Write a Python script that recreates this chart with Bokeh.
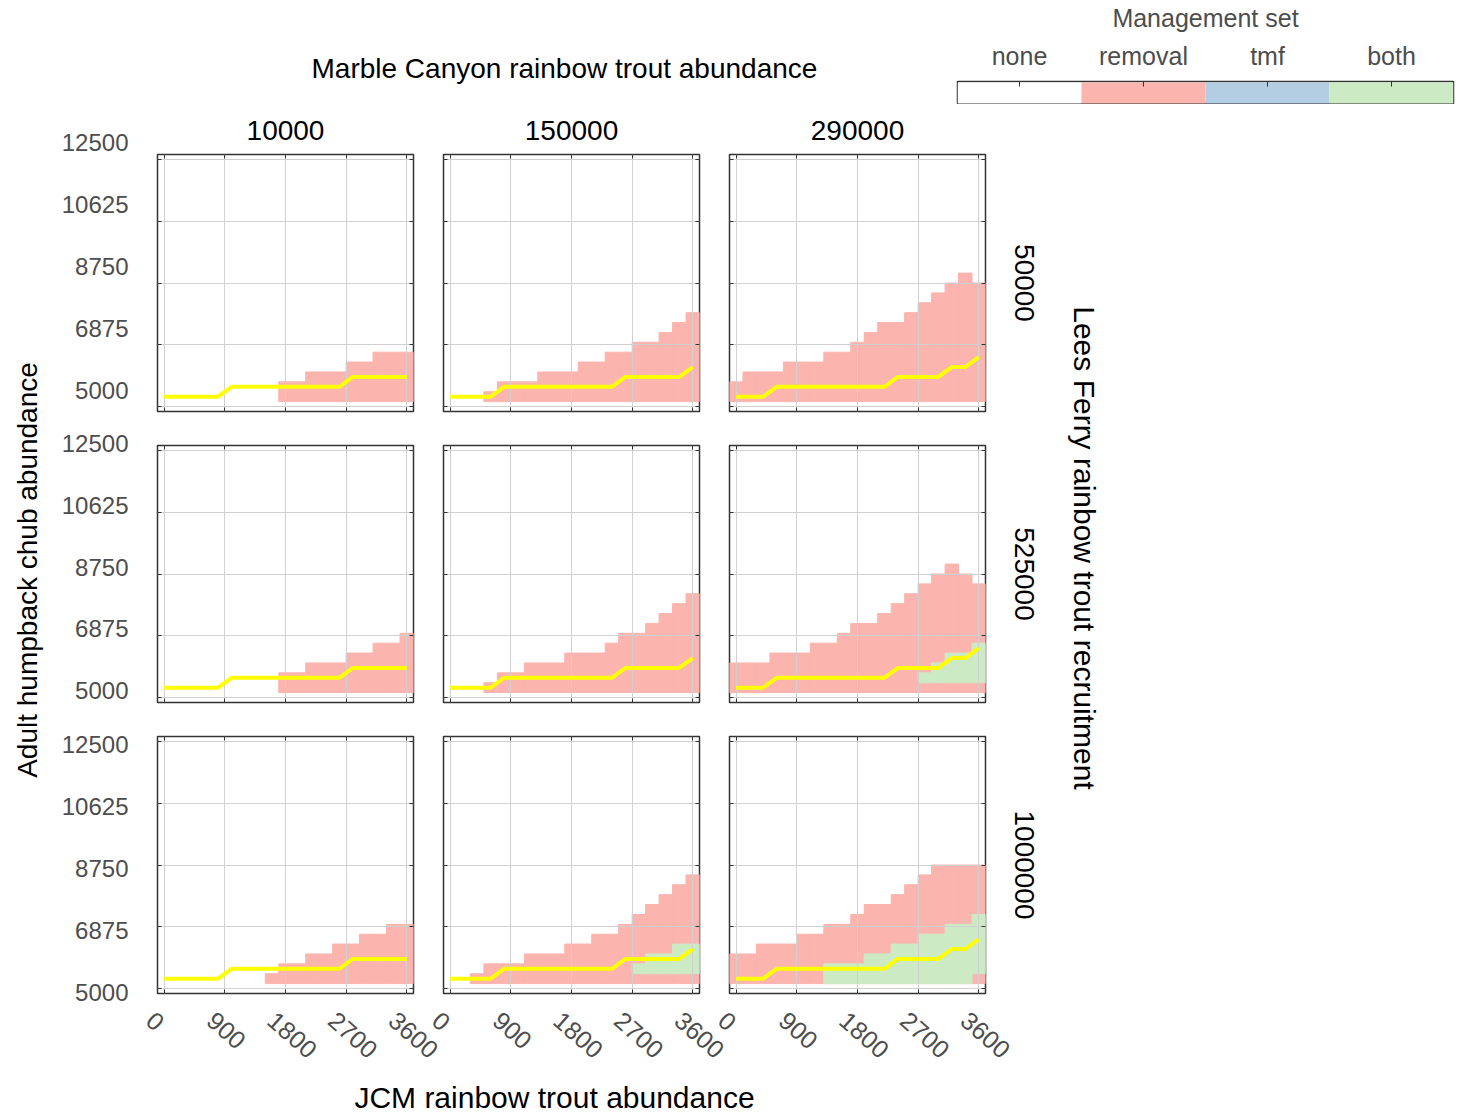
from bokeh.plotting import figure
from bokeh.layouts import column, row
from bokeh.models import FixedTicker, LinearAxis, Title, Range1d, FactorRange, ColumnDataSource
from bokeh.embed import file_html
from bokeh.resources import INLINE

# ---------------- data ----------------
jcm_abundance = [0, 200, 400, 600, 800, 1000, 1200, 1400, 1600, 1800,
                 2000, 2200, 2400, 2600, 2800, 3000, 3200, 3400, 3600]
jcm_step = 200
chub_step = 300
chub_lo, chub_hi = 5000, 12500
marble_canyon = ["10000", "150000", "290000"]
lees_ferry = ["50000", "525000", "1000000"]
mgmt_sets = ["none", "removal", "tmf", "both"]
x_ticks = [0, 900, 1800, 2700, 3600]
y_ticks = [5000, 6875, 8750, 10625, 12500]

N = None
removal_bottom = 5300
# highest chub abundance (cell centre) where "removal" is chosen, per JCM abundance
removal_top_50000_10000 = [N, N, N, N, N, N, N, N, N, 5600, 5600, 5900, 5900, 5900, 6200, 6200, 6500, 6500, 6500]
removal_top_50000_150000 = [N, N, N, 5300, 5600, 5600, 5600, 5900, 5900, 5900, 6200, 6200, 6500, 6500, 6800, 6800, 7100, 7400, 7700]
removal_top_50000_290000 = [5600, 5900, 5900, 5900, 6200, 6200, 6200, 6500, 6500, 6800, 7100, 7400, 7400, 7700, 8000, 8300, 8600, 8900, 8600]
removal_top_525000_10000 = [N, N, N, N, N, N, N, N, N, 5600, 5600, 5900, 5900, 5900, 6200, 6200, 6500, 6500, 6800]
removal_top_525000_150000 = [N, N, N, 5300, 5600, 5600, 5900, 5900, 5900, 6200, 6200, 6200, 6500, 6800, 6800, 7100, 7400, 7700, 8000]
removal_top_525000_290000 = [5900, 5900, 5900, 6200, 6200, 6200, 6500, 6500, 6800, 7100, 7100, 7400, 7700, 8000, 8300, 8600, 8900, 8600, 8300]
removal_top_1000000_10000 = [N, N, N, N, N, N, N, N, 5300, 5600, 5600, 5900, 5900, 6200, 6200, 6500, 6500, 6800, 6800]
removal_top_1000000_150000 = [N, N, 5300, 5600, 5600, 5600, 5900, 5900, 5900, 6200, 6200, 6500, 6500, 6800, 7100, 7400, 7700, 8000, 8300]
removal_top_1000000_290000 = [5900, 5900, 6200, 6200, 6200, 6500, 6500, 6800, 6800, 7100, 7400, 7400, 7700, 8000, 8300, 8600, 8600, 8600, 8600]

# "both" (removal + tmf) band, lower and upper cell centres
both_bottom_525000_290000 = [N, N, N, N, N, N, N, N, N, N, N, N, N, N, 5600, 5600, 5600, 5600, 5600]
both_top_525000_290000 = [N, N, N, N, N, N, N, N, N, N, N, N, N, N, 5600, 5900, 6200, 6200, 6500]
both_bottom_1000000_150000 = [N, N, N, N, N, N, N, N, N, N, N, N, N, N, 5600, 5600, 5600, 5600, 5600]
both_top_1000000_150000 = [N, N, N, N, N, N, N, N, N, N, N, N, N, N, 5600, 5900, 5900, 6200, 6200]
both_bottom_1000000_290000 = [N, N, N, N, N, N, N, 5300, 5300, 5300, 5300, 5300, 5300, 5300, 5300, 5300, 5300, 5300, 5600]
both_top_1000000_290000 = [N, N, N, N, N, N, N, 5600, 5600, 5600, 5900, 5900, 6200, 6200, 6500, 6500, 6800, 6800, 7100]

# yellow threshold line, per Marble Canyon abundance
threshold_10000 = [5300, 5300, 5300, 5300, 5300, 5600, 5600, 5600, 5600, 5600, 5600, 5600, 5600, 5600, 5900, 5900, 5900, 5900, 5900]
threshold_150000 = [5300, 5300, 5300, 5300, 5600, 5600, 5600, 5600, 5600, 5600, 5600, 5600, 5600, 5900, 5900, 5900, 5900, 5900, 6200]
threshold_290000 = [5300, 5300, 5300, 5600, 5600, 5600, 5600, 5600, 5600, 5600, 5600, 5600, 5900, 5900, 5900, 5900, 6200, 6200, 6500]

removal_tops = [
    [removal_top_50000_10000, removal_top_50000_150000, removal_top_50000_290000],
    [removal_top_525000_10000, removal_top_525000_150000, removal_top_525000_290000],
    [removal_top_1000000_10000, removal_top_1000000_150000, removal_top_1000000_290000],
]
both_bands = {
    (1, 2): (both_bottom_525000_290000, both_top_525000_290000),
    (2, 1): (both_bottom_1000000_150000, both_top_1000000_150000),
    (2, 2): (both_bottom_1000000_290000, both_top_1000000_290000),
}
thresholds = [threshold_10000, threshold_150000, threshold_290000]

# ---------------- style / layout constants ----------------
FONT = "Liberation Sans"
PINK, BLUE, GREEN = "#FBB4AE", "#B3CDE3", "#CCEBC5"
mgmt_colors = ["#FFFFFF", PINK, BLUE, GREEN]
TICK_GRAY = "#4d4d4d"
FRAME_COLOR = "#333333"
GRID_COLOR = "#d0d0d0"
FRAME_W, FRAME_H = 256, 257
COL_LEFT = [5, 15, 15]
COL_RIGHT = [15, 15, 76]
ROW_TOP = [50, 17, 17]
ROW_BOTTOM = [17, 17, 14]
HEADER_H = 104
YSTRIP_W = 102
XSTRIP_H = 61
BOTTOM_H = 46
# vertical nudge (px, upwards) of the chub tick labels in each facet row
ylabel_nudge = [16.5, 7.0, -3.5]
# horizontal nudge (px, leftwards) that centres the slanted JCM tick labels on their ticks
xlabel_nudge = 14

x_lo, x_hi = jcm_abundance[0] - jcm_step / 2, jcm_abundance[-1] + jcm_step / 2
y_lo, y_hi = chub_lo - chub_step / 2, chub_hi + chub_step / 2


def big_title(text, size="28px", **kw):
    return Title(text=text, text_font=FONT, text_font_size=size, text_font_style="normal",
                 text_color="black", **kw)


def quads(bottoms, tops):
    d = dict(left=[], right=[], bottom=[], top=[])
    for x, b, t in zip(jcm_abundance, bottoms, tops):
        if t is None or b is None:
            continue
        d["left"].append(x - jcm_step / 2)
        d["right"].append(x + jcm_step / 2)
        d["bottom"].append(b - chub_step / 2)
        d["top"].append(t + chub_step / 2)
    return d


def tick_axis(ax, ticks):
    ax.ticker = FixedTicker(ticks=ticks)
    ax.axis_line_color = None
    ax.major_tick_in = 4
    ax.major_tick_out = 0
    ax.minor_tick_line_color = None
    ax.major_tick_line_color = FRAME_COLOR
    ax.major_tick_line_width = 1
    ax.major_label_text_color = None
    ax.major_label_text_font_size = "0px"
    ax.major_label_standoff = 0
    ax.axis_label_text_font = FONT
    ax.axis_label_text_font_style = "normal"
    ax.axis_label_text_color = "black"
    ax.axis_label_text_font_size = "28px"


def label_axis(ax, ticks, overrides, size):
    ax.ticker = FixedTicker(ticks=ticks)
    ax.major_label_overrides = overrides
    ax.axis_line_color = None
    ax.major_tick_line_color = None
    ax.major_tick_in = 0
    ax.major_tick_out = 0
    ax.minor_tick_line_color = None
    ax.minor_tick_in = 0
    ax.minor_tick_out = 0
    ax.major_label_text_font = FONT
    ax.major_label_text_font_size = size
    ax.major_label_text_color = TICK_GRAY


def make_panel(r, c):
    left, right, top, bottom = COL_LEFT[c], COL_RIGHT[c], ROW_TOP[r], ROW_BOTTOM[r]
    p = figure(width=left + FRAME_W + right, height=top + FRAME_H + bottom,
               x_range=Range1d(x_lo, x_hi), y_range=Range1d(y_lo, y_hi),
               min_border_left=left, min_border_right=right,
               min_border_top=top, min_border_bottom=bottom,
               toolbar_location=None, tools="", output_backend="svg")
    p.outline_line_color = FRAME_COLOR
    p.outline_line_width = 1.5
    p.background_fill_color = "white"

    xb = p.xaxis[0]
    yl = p.yaxis[0]
    xa = LinearAxis()
    yr = LinearAxis()
    p.add_layout(xa, "above")
    p.add_layout(yr, "right")
    for ax, t in ((xb, x_ticks), (yl, y_ticks), (xa, x_ticks), (yr, y_ticks)):
        tick_axis(ax, t)
    if r == 0:
        xa.axis_label = marble_canyon[c]
        xa.axis_label_standoff = 15
    if c == 2:
        yr.axis_label = lees_ferry[r]
        yr.axis_label_standoff = 29

    p.xgrid.ticker = FixedTicker(ticks=x_ticks)
    p.ygrid.ticker = FixedTicker(ticks=y_ticks)
    p.grid.grid_line_color = GRID_COLOR
    p.grid.grid_line_width = 1

    rem = quads([removal_bottom] * len(jcm_abundance), removal_tops[r][c])
    q = p.quad(source=ColumnDataSource(rem), left="left", right="right", bottom="bottom", top="top",
               fill_color=PINK, line_color=PINK, line_width=1)
    q.level = "image"
    if (r, c) in both_bands:
        bb, bt = both_bands[(r, c)]
        q2 = p.quad(source=ColumnDataSource(quads(bb, bt)), left="left", right="right",
                    bottom="bottom", top="top", fill_color=GREEN, line_color=GREEN, line_width=1)
        q2.level = "image"
    p.line(jcm_abundance, thresholds[c], line_color="#FFFF00", line_width=4)
    return p


panels = [[make_panel(r, c) for c in range(3)] for r in range(3)]
grid_h = sum(ROW_TOP) + sum(ROW_BOTTOM) + 3 * FRAME_H
grid_w = sum(COL_LEFT) + sum(COL_RIGHT) + 3 * FRAME_W


def blank(width, height, **kw):
    f = figure(width=width, height=height, toolbar_location=None, tools="", output_backend="svg", **kw)
    f.outline_line_color = None
    f.grid.visible = False
    f.frame_align = False
    return f


# ---------------- shared chub tick-label strip, left of the grid ----------------
upp_y = (y_hi - y_lo) / FRAME_H
pitch_y = (FRAME_H + ROW_BOTTOM[0] + ROW_TOP[1]) * upp_y
y_pos, y_labels = [], {}
for r in range(3):
    for v in y_ticks:
        u = v + (2 - r) * pitch_y + ylabel_nudge[r] * upp_y
        y_pos.append(u)
        y_labels[u] = str(v)
ystrip = blank(YSTRIP_W, grid_h, title=None, x_range=Range1d(0, 1),
               y_range=Range1d(y_lo - ROW_BOTTOM[2] * upp_y, y_lo + (grid_h - ROW_BOTTOM[2]) * upp_y),
               x_axis_location=None,
               min_border_left=YSTRIP_W - 1, min_border_right=0,
               min_border_top=0, min_border_bottom=0)
label_axis(ystrip.yaxis[0], y_pos, y_labels, "24px")
ystrip.yaxis[0].major_label_standoff = 23

# ---------------- shared JCM tick-label strip, under the grid ----------------
upp_x = (x_hi - x_lo) / FRAME_W
pitch_x = (COL_RIGHT[0] + COL_LEFT[1] + FRAME_W) * upp_x
xstrip_w = YSTRIP_W + grid_w
xstrip_left = YSTRIP_W + COL_LEFT[0]
x_pos, x_labels = [], {}
for c in range(3):
    for v in x_ticks:
        u = v + c * pitch_x - xlabel_nudge * upp_x
        x_pos.append(u)
        x_labels[u] = str(v)
xstrip = blank(xstrip_w, XSTRIP_H, title=None,
               x_range=Range1d(x_lo - xstrip_left * upp_x,
                               x_lo + (xstrip_w - xstrip_left - COL_RIGHT[2]) * upp_x),
               y_range=Range1d(0, 1), y_axis_location=None,
               min_border_left=0, min_border_right=COL_RIGHT[2],
               min_border_top=0, min_border_bottom=XSTRIP_H - 1)
sax = xstrip.xaxis[0]
label_axis(sax, x_pos, x_labels, "25px")
sax.major_label_orientation = -0.72
sax.major_label_standoff = 9

# ---------------- header: overall title + legend ----------------
title_fig = blank(948, HEADER_H, x_axis_location=None, y_axis_location=None,
                  min_border_left=0, min_border_right=0, min_border_top=88, min_border_bottom=0)
title_fig.add_layout(big_title("Marble Canyon rainbow trout abundance", align="left", offset=311), "above")

legend_fig = figure(width=514, height=HEADER_H, title=None,
                    x_range=FactorRange(factors=mgmt_sets), y_range=Range1d(-0.05, 1.05),
                    x_axis_location="above", y_axis_location=None,
                    toolbar_location=None, tools="", output_backend="svg",
                    min_border_left=9, min_border_right=9, min_border_top=81, min_border_bottom=0)
legend_fig.frame_align = False
bars = legend_fig.vbar(x=mgmt_sets, bottom=0, top=1, width=1, fill_color=mgmt_colors, line_color=None)
bars.level = "image"
legend_fig.grid.visible = False
legend_fig.outline_line_color = FRAME_COLOR
legend_fig.outline_line_width = 1.5
lax = legend_fig.xaxis[0]
lax.axis_line_color = None
lax.major_tick_in = 5
lax.major_tick_out = 0
lax.major_tick_line_color = FRAME_COLOR
lax.major_label_text_font = FONT
lax.major_label_text_font_size = "25px"
lax.major_label_text_color = TICK_GRAY
lax.major_label_standoff = 12
lax.axis_label = "Management set"
lax.axis_label_text_font = FONT
lax.axis_label_text_font_size = "25px"
lax.axis_label_text_font_style = "normal"
lax.axis_label_text_color = TICK_GRAY
lax.axis_label_standoff = 7

# ---------------- spanning axis titles ----------------
mid_h = grid_h + XSTRIP_H
left_fig = blank(50, mid_h, title=None, x_axis_location=None, y_axis_location=None,
                 min_border_left=47, min_border_right=0, min_border_top=0, min_border_bottom=33)
left_fig.add_layout(big_title("Adult humpback chub abundance", align="center"), "left")

right_fig = blank(52, mid_h, title=None, x_axis_location=None, y_axis_location=None,
                  min_border_left=0, min_border_right=51, min_border_top=0, min_border_bottom=77)
right_fig.add_layout(big_title("Lees Ferry rainbow trout recruitment", size="30px", align="center"), "right")

bottom_fig = blank(1108, BOTTOM_H, x_axis_location=None, y_axis_location=None,
                   min_border_left=0, min_border_right=0, min_border_top=BOTTOM_H - 1, min_border_bottom=0)
bottom_fig.add_layout(big_title("JCM rainbow trout abundance", size="30px", align="center", standoff=0), "above")

grid = column(row(*panels[0]), row(*panels[1]), row(*panels[2]))
layout = column(
    row(title_fig, legend_fig),
    row(left_fig, column(row(ystrip, grid), xstrip), right_fig),
    bottom_fig,
)

open("out.html", "w").write(file_html(layout, INLINE, "Management set"))
